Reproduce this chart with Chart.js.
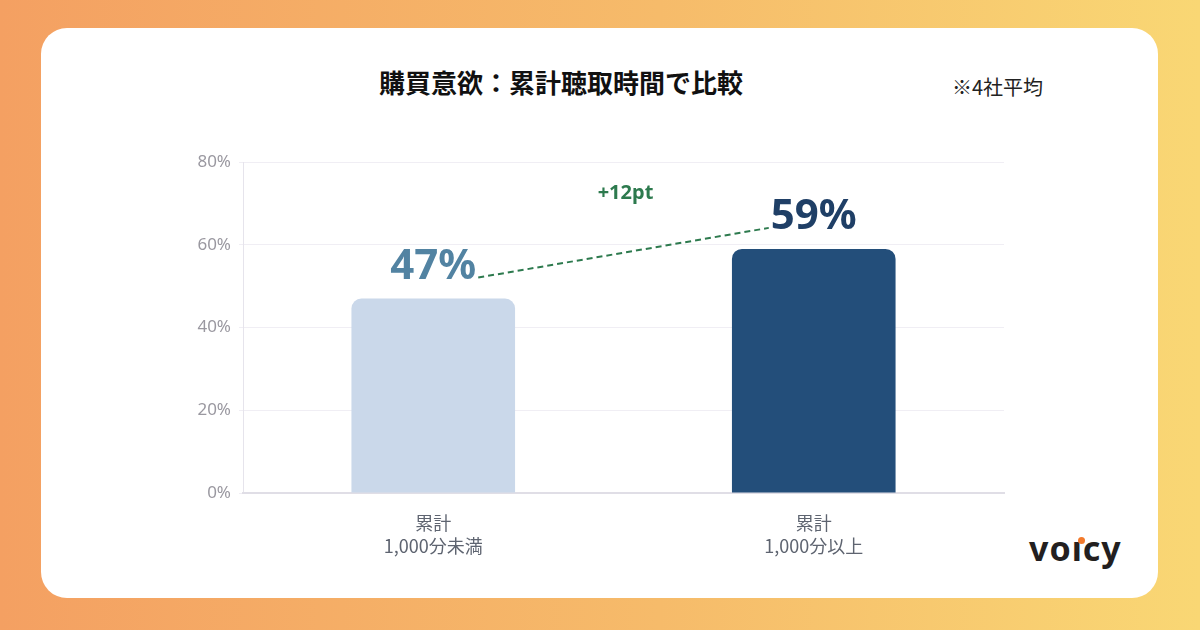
<!DOCTYPE html>
<html>
<head>
<meta charset="utf-8">
<script src="https://cdn.jsdelivr.net/npm/chart.js@4"></script>
<style>
    body {
        margin: 0;
        width: 1200px;
        height: 630px;
        overflow: hidden;
        background: linear-gradient(90deg, #f4a062 0%, #f6bb6a 55%, #f9d774 100%);
        font-family: 'Noto Sans CJK JP', 'Noto Sans', sans-serif;
    }
    .card {
        position: absolute;
        left: 41px;
        top: 28px;
        width: 1117px;
        height: 570px;
        background: #fff;
        border-radius: 26px;
    }
    .title {
        position: absolute;
        left: 0;
        top: 63px;
        width: 1122px;
        text-align: center;
        font-size: 26px;
        font-weight: 700;
        color: #111;
    }
    .note {
        position: absolute;
        left: 952px;
        top: 72px;
        font-size: 20px;
        color: #222;
    }
    .logo {
        position: absolute;
        left: 1029px;
        top: 525px;
        font-family: 'Noto Sans', sans-serif;
        font-size: 34px;
        font-weight: 700;
        letter-spacing: 1px;
        color: #231f20;
    }
    .logo .dot {
        position: absolute;
        left: 49px;
        top: 12px;
        width: 7px;
        height: 7px;
        border-radius: 50%;
        background: #f37a2b;
    }
    .chart-box {
        position: absolute;
        left: 0;
        top: 0;
        width: 1200px;
        height: 630px;
    }
</style>
</head>
<body>
<div class="card"></div>
<div class="title">購買意欲：累計聴取時間で比較</div>
<div class="note">※4社平均</div>
<div class="logo">voıcy<span class="dot"></span></div>
<div class="chart-box"><canvas id="myChart"></canvas></div>

<script>
const categories = [['累計', '1,000分未満'], ['累計', '1,000分以上']];
const values = [47, 59];
const valueLabels = ['47%', '59%'];
const diffLabel = '+12pt';
const yTicks = [0, 20, 40, 60, 80];

const barColors = ['#cad8ea', '#234e7a'];
const labelColors = ['#5283a2', '#1f3f66'];

const annotate = {
    id: 'annotate',
    afterDatasetsDraw(chart) {
        const { ctx, scales: { x, y } } = chart;
        ctx.save();
        ctx.font = "700 42px 'Noto Sans', sans-serif";
        ctx.textAlign = 'center';
        ctx.textBaseline = 'middle';
        const widths = [];
        values.forEach((v, i) => {
            ctx.fillStyle = labelColors[i];
            ctx.fillText(valueLabels[i], x.getPixelForValue(i), y.getPixelForValue(v) - 32);
            widths.push(ctx.measureText(valueLabels[i]).width);
        });

        // dashed connector between the two labels
        const x1 = x.getPixelForValue(0) + widths[0] / 2 + 2;
        const y1 = y.getPixelForValue(values[0]) - 21;
        const x2 = x.getPixelForValue(1) - widths[1] / 2 - 2;
        const y2 = y.getPixelForValue(values[1]) - 21;
        ctx.strokeStyle = '#2d7a4e';
        ctx.lineWidth = 2;
        ctx.setLineDash([6, 4]);
        ctx.beginPath();
        ctx.moveTo(x1, y1);
        ctx.lineTo(x2, y2);
        ctx.stroke();

        ctx.setLineDash([]);
        ctx.fillStyle = '#2d7a4e';
        ctx.font = "700 20px 'Noto Sans', sans-serif";
        ctx.fillText(diffLabel, (x.getPixelForValue(0) + x.getPixelForValue(1)) / 2 + 2, y.getPixelForValue(values[1]) - 56);
        ctx.restore();
    }
};

const ctx = document.getElementById('myChart');

new Chart(ctx, {
    type: 'bar',
    data: {
        labels: categories,
        datasets: [{
            data: values,
            backgroundColor: barColors,
            borderRadius: { topLeft: 10, topRight: 10 },
            borderSkipped: 'bottom',
            barPercentage: 0.86,
            categoryPercentage: 0.5
        }]
    },
    options: {
        responsive: true,
        maintainAspectRatio: false,
        animation: false,
        layout: {
            padding: { left: 180, right: 196, top: 162, bottom: 60 }
        },
        scales: {
            y: {
                min: 0,
                max: 80,
                afterFit: scale => { scale.width = 63; },
                afterBuildTicks: scale => { scale.ticks = yTicks.map(v => ({ value: v })); },
                ticks: {
                    callback: value => value + '%',
                    color: '#9a98a0',
                    padding: 8,
                    font: { size: 17, family: "'Noto Sans', sans-serif" }
                },
                grid: {
                    color: '#f0eef4',
                    tickLength: 4
                },
                border: { color: '#e6e4ec' }
            },
            x: {
                afterFit: scale => { scale.height = 77; },
                ticks: {
                    color: '#5e6470',
                    padding: 11,
                    font: { size: 18, family: "'Noto Sans CJK JP', sans-serif", lineHeight: 1.25 }
                },
                grid: { display: false },
                border: { color: '#e0dee6', width: 2 }
            }
        },
        plugins: {
            legend: { display: false },
            tooltip: { enabled: false }
        }
    },
    plugins: [annotate]
});
</script>
</body>
</html>
